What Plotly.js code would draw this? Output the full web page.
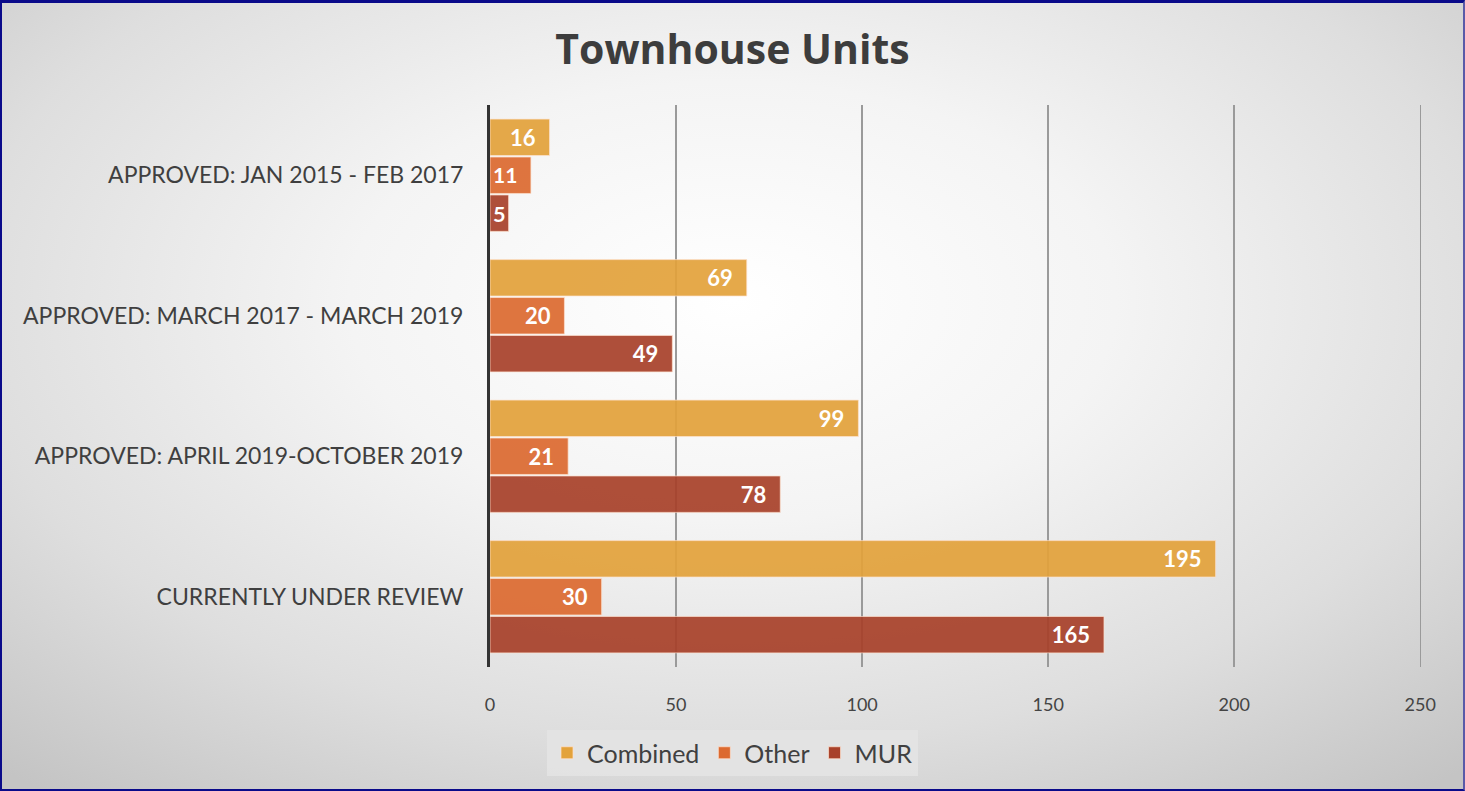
<!DOCTYPE html>
<html>
<head>
<meta charset="utf-8">
<script src="https://cdn.plot.ly/plotly-3.0.1.min.js"></script>
<style>
  html, body { margin:0; padding:0; width:1465px; height:791px; overflow:hidden; }
  #frame {
    position:absolute; left:0; top:0; width:1465px; height:791px; box-sizing:border-box;
    border:2px solid #0a0a8a; border-top-width:3px; border-right-color:#5a5aa8;
    background: radial-gradient(ellipse 75% 80% at 50% 38%, #ffffff 0%, #f4f4f4 35%, #dedede 70%, #c4c4c4 100%);
  }
  #chart { position:absolute; left:0; top:0; width:1465px; height:791px; }
</style>
</head>
<body>
<div id="frame"></div>
<div id="chart"></div>
<script>
const categories = [
  "APPROVED: JAN 2015 - FEB 2017",
  "APPROVED: MARCH 2017 - MARCH 2019",
  "APPROVED: APRIL 2019-OCTOBER 2019",
  "CURRENTLY UNDER REVIEW"
];
const combined = [16, 69, 99, 195];
const other = [11, 20, 21, 30];
const mur = [5, 49, 78, 165];
const seriesNames = ["Combined", "Other", "MUR"];
const xTicks = [0, 50, 100, 150, 200, 250];

const colors = ["#E3A23B", "#DC6A30", "#A8412A"];
const values = [combined, other, mur];

const traces = values.map((v, i) => ({
  type: 'bar',
  orientation: 'h',
  name: seriesNames[i],
  x: v,
  y: categories,
  marker: { color: colors[i], opacity: 0.92, line: { color: 'rgba(255,225,205,0.7)', width: 1 } },
  texttemplate: v.map(val => val < 8 ? '%{x}' : '%{x}\u2002'),
  textposition: 'inside',
  insidetextanchor: 'end',
  insidetextfont: { color: '#ffffff', size: 22, family: 'Lato, sans-serif', weight: 'bold' },
  hoverinfo: 'x+name'
}));

const layout = {
  width: 1465, height: 791,
  paper_bgcolor: 'rgba(0,0,0,0)',
  plot_bgcolor: 'rgba(0,0,0,0)',
  margin: { l: 490, r: 41, t: 105, b: 124 },
  barmode: 'group',
  bargap: 0.19,
  bargroupgap: 0.04,
  title: {
    text: '<b>Townhouse Units</b>',
    font: { family: 'Open Sans, sans-serif', size: 41, color: '#3d3d3d' },
    xref: 'container', x: 0.5, xanchor: 'center',
    yref: 'container', y: 1 - 50/791, yanchor: 'middle'
  },
  xaxis: {
    range: [0, 251],
    tickvals: xTicks,
    showgrid: true, gridcolor: '#9a9a9a', gridwidth: 1.5,
    zeroline: false,
    showline: false,
    ticks: 'outside', ticklen: 21, tickcolor: 'rgba(0,0,0,0)',
    tickfont: { family: 'Lato, sans-serif', size: 18, color: '#444444' },
    fixedrange: true
  },
  yaxis: {
    type: 'category',
    autorange: 'reversed',
    showline: true, linecolor: '#333333', linewidth: 3,
    showgrid: false, zeroline: false,
    ticks: 'outside', ticklen: 19, tickcolor: 'rgba(0,0,0,0)',
    tickfont: { family: 'Lato, sans-serif', size: 23, color: '#3f3f3f' },
    fixedrange: true
  },
  legend: {
    orientation: 'h',
    x: 0.5, xanchor: 'center', xref: 'container',
    y: 1 - 753/791, yanchor: 'middle', yref: 'container',
    bgcolor: 'rgba(228,228,228,0.85)',
    font: { family: 'Lato, sans-serif', size: 25, color: '#404040' },
    itemwidth: 30,
    traceorder: 'normal'
  },
  showlegend: true
};

Plotly.newPlot('chart', traces, layout, { displayModeBar: false, staticPlot: true });
</script>
</body>
</html>
